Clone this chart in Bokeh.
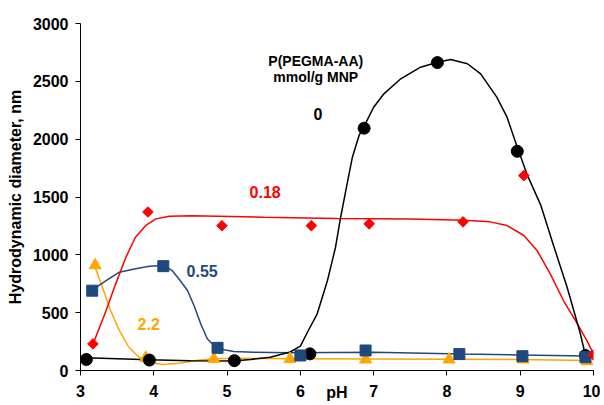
from bokeh.plotting import figure
from bokeh.models import Label, Range1d, FixedTicker
from bokeh.embed import file_html
from bokeh.resources import INLINE

# ---- measured data points (pH, hydrodynamic diameter nm) ----
ph_0 = [3.08, 3.94, 5.10, 6.13, 6.87, 7.87, 8.96, 9.89]
d_0 = [95, 90, 85, 144, 2095, 2662, 1895, 130]

ph_018 = [3.17, 3.92, 4.93, 6.15, 6.94, 8.22, 9.05, 10.0]
d_018 = [230, 1370, 1252, 1252, 1268, 1285, 1685, 135]

ph_055 = [3.16, 4.13, 4.87, 6.00, 6.89, 8.17, 9.03, 9.89]
d_055 = [690, 902, 196, 130, 173, 142, 124, 115]

ph_22 = [3.20, 3.89, 4.82, 5.86, 6.89, 8.03, 9.04, 9.91]
d_22 = [910, 110, 100, 100, 95, 95, 95, 80]

# ---- trend curves ----
fit_ph_0 = [3.07, 3.93, 4.5, 5.09, 5.32, 5.59, 5.86, 6.0, 6.1, 6.23, 6.37, 6.48,
            6.55, 6.62, 6.71, 6.80, 6.90, 7.0, 7.14, 7.37, 7.64, 7.87, 8.05, 8.28,
            8.46, 8.68, 8.82, 8.96, 9.09, 9.28, 9.46, 9.64, 9.82, 9.89]
fit_d_0 = [110, 92, 85, 82, 95, 115, 160, 210, 335, 490, 778, 1066,
           1325, 1556, 1844, 2030, 2150, 2276, 2392, 2522, 2622, 2665, 2689, 2652,
           2565, 2363, 2190, 1931, 1700, 1430, 1070, 720, 320, 130]

fit_ph_018 = [3.19, 3.35, 3.48, 3.62, 3.75, 3.89, 4.03, 4.21, 4.53, 5.5, 6.5, 7.5,
              8.23, 8.59, 8.82, 9.05, 9.23, 9.41, 9.59, 9.78, 9.91, 10.0]
fit_d_018 = [259, 519, 749, 980, 1152, 1254, 1311, 1334, 1338, 1325, 1315, 1310,
             1298, 1285, 1253, 1167, 1037, 836, 605, 404, 259, 144]

fit_ph_055 = [3.16, 3.35, 3.53, 3.75, 3.94, 4.12, 4.25, 4.36, 4.46, 4.55, 4.64, 4.73,
              4.82, 4.96, 5.09, 5.36, 5.86, 7.0, 8.2, 9.0, 9.89]
fit_d_055 = [697, 778, 850, 879, 902, 908, 865, 778, 692, 560, 404, 274,
             216, 179, 164, 158, 153, 158, 142, 135, 125]

fit_ph_22 = [3.19, 3.30, 3.41, 3.53, 3.66, 3.80, 3.94, 4.12, 4.35, 4.6, 4.82, 5.2,
             6.0, 7.0, 8.0, 9.0, 9.91]
fit_d_22 = [908, 720, 519, 346, 201, 115, 72, 52, 63, 88, 102, 105,
            102, 100, 98, 95, 86]

x_ticks = [3, 4, 5, 6, 7, 8, 9, 10]
y_ticks = [0, 500, 1000, 1500, 2000, 2500, 3000]

BLACK = "#000000"
RED = "#FF0000"
BLUE = "#1F497D"
ORANGE = "#FFA500"
FONT = "Liberation Sans"

p = figure(width=600, height=405, output_backend="svg", toolbar_location=None,
           x_range=Range1d(3, 10), y_range=Range1d(0, 3000),
           min_border_left=80, min_border_top=23, min_border_right=7,
           min_border_bottom=35)
p.outline_line_color = None
p.grid.visible = False
p.background_fill_color = "white"

for ax in (p.xaxis[0], p.yaxis[0]):
    ax.axis_line_color = "black"
    ax.axis_line_width = 1
    ax.major_tick_line_color = "black"
    ax.major_tick_out = 5
    ax.major_tick_in = 0
    ax.minor_tick_line_color = None
    ax.major_label_text_font = FONT
    ax.major_label_text_font_style = "bold"
    ax.major_label_text_font_size = "16px"
    ax.major_label_text_color = "black"

p.xaxis.ticker = FixedTicker(ticks=x_ticks)
p.yaxis.ticker = FixedTicker(ticks=y_ticks)
p.xaxis.major_label_standoff = 9
p.yaxis.major_label_standoff = 7

p.xaxis.axis_label = "pH"
p.xaxis.axis_label_text_font = FONT
p.xaxis.axis_label_text_font_style = "bold"
p.xaxis.axis_label_text_font_size = "16px"
p.xaxis.axis_label_text_color = "black"
p.xaxis.axis_label_standoff = -16

p.yaxis.axis_label = "Hydrodynamic diameter, nm"
p.yaxis.axis_label_text_font = FONT
p.yaxis.axis_label_text_font_style = "bold"
p.yaxis.axis_label_text_font_size = "16px"
p.yaxis.axis_label_text_color = "black"
p.yaxis.axis_label_standoff = 6

# curves
p.line(fit_ph_22, fit_d_22, line_color=ORANGE, line_width=1.5)
p.line(fit_ph_055, fit_d_055, line_color=BLUE, line_width=1.5)
p.line(fit_ph_018, fit_d_018, line_color=RED, line_width=1.5)
p.line(fit_ph_0, fit_d_0, line_color=BLACK, line_width=1.5)

# markers
p.scatter(ph_22, d_22, marker="triangle", size=12, fill_color=ORANGE, line_color=ORANGE)
p.scatter(ph_0, d_0, marker="circle", size=12, fill_color=BLACK, line_color=BLACK)
p.scatter(ph_055, d_055, marker="square", size=11, fill_color=BLUE, line_color=BLUE)
p.scatter(ph_018, d_018, marker="square", angle=0.7854, size=7.5,
          fill_color=RED, line_color=RED)

# annotations
labels = [
    ("P(PEGMA-AA)", 6.21, 2680, BLACK, "14px"),
    ("mmol/g MNP", 6.21, 2535, BLACK, "14px"),
    ("0", 6.24, 2219, BLACK, "16px"),
    ("0.18", 5.52, 1541, RED, "16px"),
    ("0.55", 4.66, 864, BLUE, "16px"),
    ("2.2", 3.93, 404, ORANGE, "16px"),
]
for txt, lx, ly, col, fs in labels:
    p.add_layout(Label(x=lx, y=ly, text=txt, text_color=col, text_font=FONT,
                       text_font_style="bold", text_font_size=fs,
                       text_align="center", text_baseline="middle"))

open("out.html", "w").write(file_html(p, INLINE))
